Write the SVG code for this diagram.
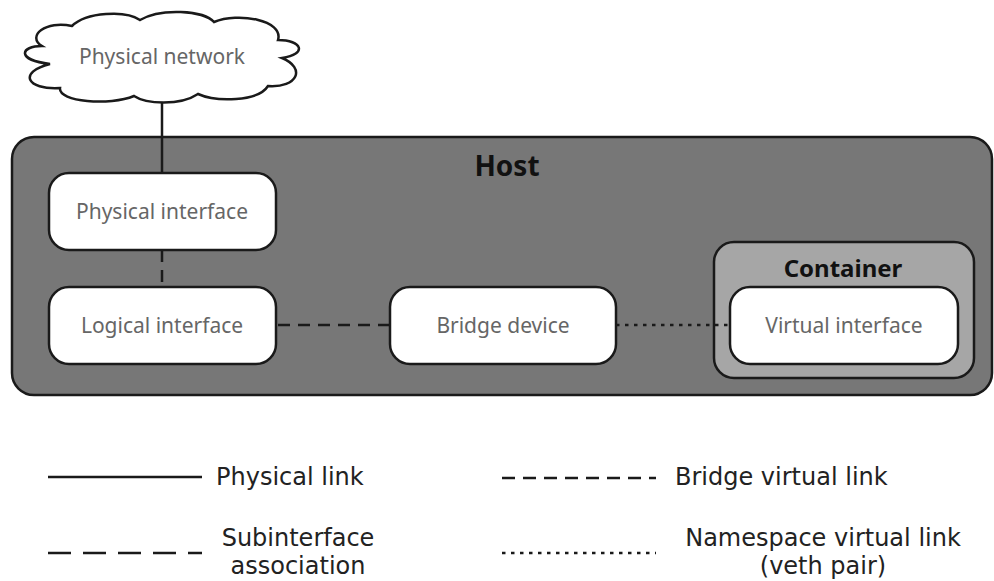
<svg xmlns="http://www.w3.org/2000/svg" width="994" height="581" viewBox="0 0 994 581">
<style>
.box{stroke:#1a1a1a;stroke-width:2.5}
.node{fill:#fff;stroke:#1a1a1a;stroke-width:2.5}
.lbl{font-family:"Noto Sans","Open Sans",sans-serif;font-size:21px;fill:#666;text-anchor:middle}
.ttl{font-family:"Noto Sans","Open Sans",sans-serif;font-weight:bold;fill:#111;text-anchor:middle}
.leg{font-family:"DejaVu Sans","Noto Sans",sans-serif;font-size:24px;fill:#222}
.ln{fill:none;stroke:#1a1a1a;stroke-width:2.5}
.sub{stroke-dasharray:23 12}
.brg{stroke-dasharray:12 8}
.dot{stroke-dasharray:3.5 5.5}
</style>
<rect width="994" height="581" fill="#fff"/>
<g id="host">
<rect class="box" x="12" y="137" width="980" height="258" rx="22" fill="#777"/>
<text class="ttl" x="507" y="176" font-size="28">Host</text>
</g>
<g id="container">
<rect class="box" x="714" y="242" width="260" height="136" rx="20" fill="#a6a6a6"/>
<text class="ttl" x="843" y="277" font-size="24">Container</text>
</g>
<g id="connectors">
<line class="ln" x1="162" y1="101" x2="162" y2="173"/>
<line class="ln" x1="162" y1="250" x2="162" y2="287" style="stroke-dasharray:12 8"/>
<line class="ln brg" x1="276" y1="325" x2="390" y2="325" stroke-dashoffset="-2"/>
<line class="ln dot" x1="616" y1="325" x2="730" y2="325"/>
</g>
<g id="physical-network">
<path d="M42,46 C26,36 46,20 72,26 C86,12 126,10 140,20 C160,8 204,10 214,22 C238,12 284,20 278,40 C302,40 308,54 282,58 C306,68 298,88 268,86 C258,102 216,102 198,94 C180,106 146,104 134,96 C110,106 58,102 60,88 C26,90 18,72 50,64 C16,60 20,46 42,46 Z" fill="#fff" stroke="#1a1a1a" stroke-width="2.5"/>
<text class="lbl" x="162" y="64">Physical network</text>
</g>
<g id="physical-interface">
<rect class="node" x="49" y="173" width="227" height="77" rx="20"/>
<text class="lbl" x="162" y="219">Physical interface</text>
</g>
<g id="logical-interface">
<rect class="node" x="49" y="287" width="227" height="77" rx="20"/>
<text class="lbl" x="162" y="333">Logical interface</text>
</g>
<g id="bridge-device">
<rect class="node" x="390" y="287" width="226" height="77" rx="20"/>
<text class="lbl" x="503" y="333">Bridge device</text>
</g>
<g id="virtual-interface">
<rect class="node" x="730" y="287" width="228" height="77" rx="20"/>
<text class="lbl" x="844" y="333">Virtual interface</text>
</g>
<g id="legend">
<line class="ln" x1="48" y1="477" x2="202" y2="477"/>
<text class="leg" x="216" y="485">Physical link</text>
<line class="ln sub" x1="48" y1="553" x2="202" y2="553"/>
<text class="leg" text-anchor="middle"><tspan x="298" y="546">Subinterface</tspan><tspan x="298" y="574">association</tspan></text>
<line class="ln" x1="502" y1="478" x2="656" y2="478" style="stroke-dasharray:13 8"/>
<text class="leg" x="675" y="485">Bridge virtual link</text>
<line class="ln dot" x1="502" y1="553" x2="656" y2="553"/>
<text class="leg" text-anchor="middle"><tspan x="823" y="546">Namespace virtual link</tspan><tspan x="823" y="574">(veth pair)</tspan></text>
</g>
</svg>
